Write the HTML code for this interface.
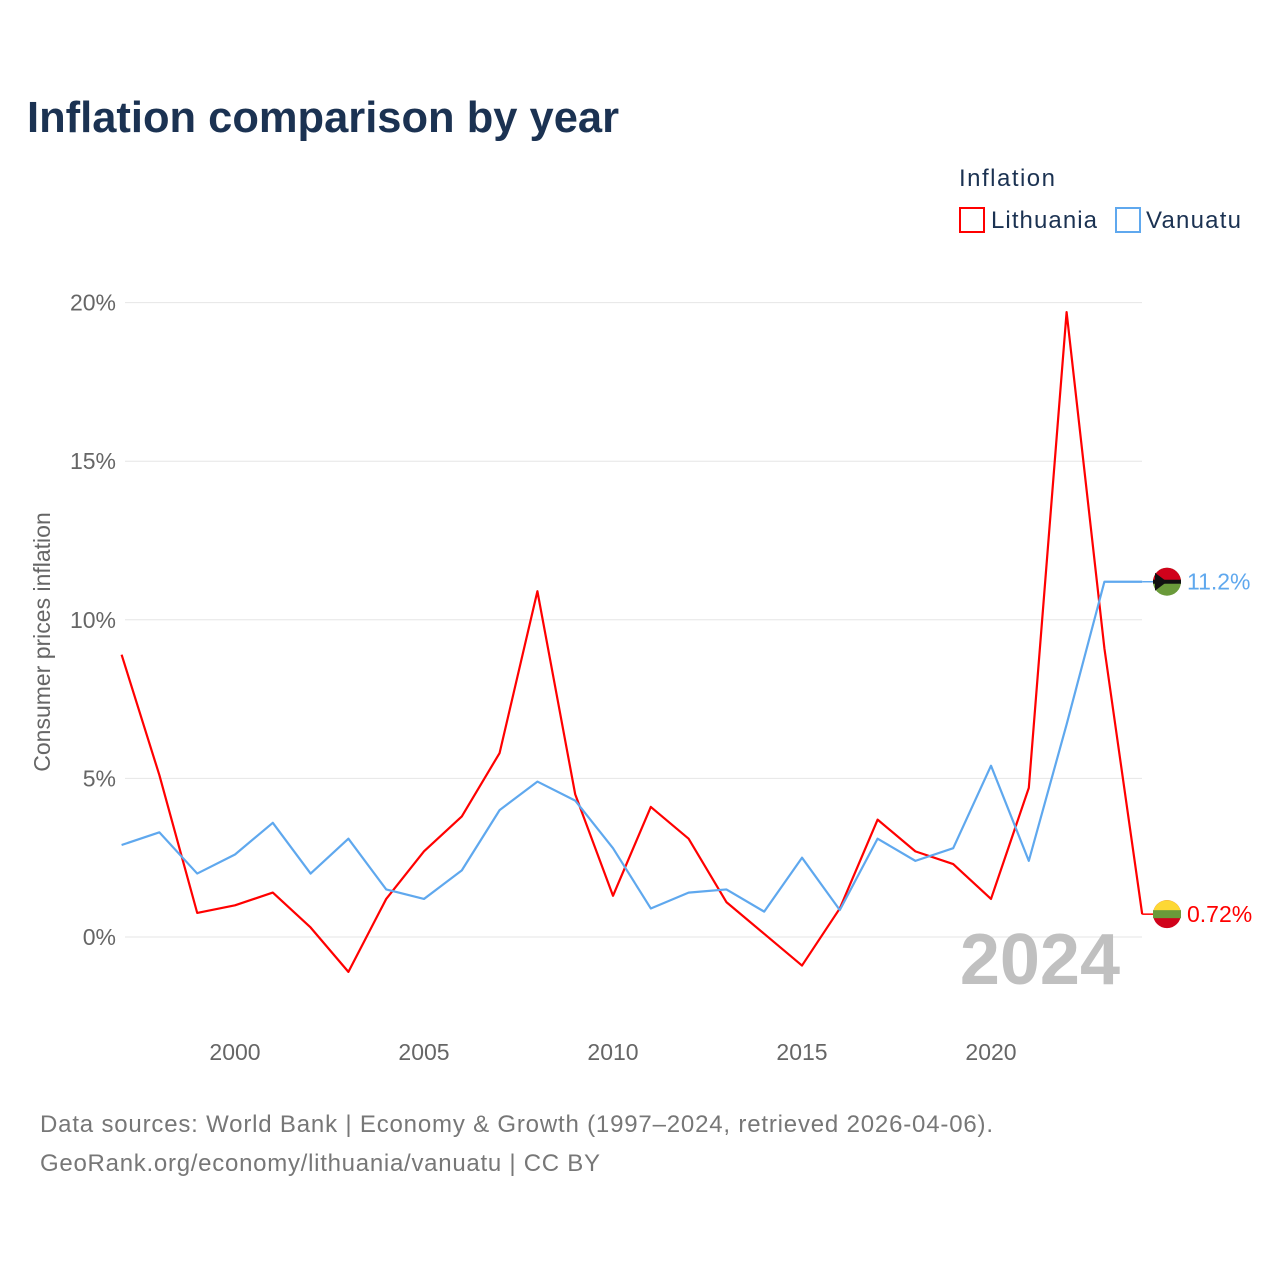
<!DOCTYPE html>
<html><head><meta charset="utf-8"><style>
body{margin:0;background:#fff;font-family:"Liberation Sans",sans-serif}
</style></head><body>
<svg width="1280" height="1280" viewBox="0 0 1280 1280" id="chart" font-family="Liberation Sans, sans-serif">
<text x="27" y="132" font-size="44" font-weight="bold" fill="#1b3252" textLength="592" lengthAdjust="spacingAndGlyphs">Inflation comparison by year</text>
<text x="959" y="186" font-size="24" fill="#1b3252" textLength="96">Inflation</text>
<g><rect x="960" y="208" width="24" height="24" fill="none" stroke="#ff0000" stroke-width="2"/><text x="991" y="228" font-size="24" fill="#1b3252" textLength="106">Lithuania</text></g>
<g><rect x="1116" y="208" width="24" height="24" fill="none" stroke="#5fa8ee" stroke-width="2"/><text x="1146" y="228" font-size="24" fill="#1b3252" textLength="95">Vanuatu</text></g>
<text transform="translate(50,642) rotate(-90)" text-anchor="middle" font-size="23" fill="#666">Consumer prices inflation</text>
<g id="grid"></g><g id="xt"></g>
<text x="1120" y="984" text-anchor="end" font-size="72" font-weight="bold" fill="#c0c0c0">2024</text>
<g id="lines"></g>
<text x="40" y="1132" font-size="24" fill="#777" textLength="953">Data sources: World Bank | Economy &amp; Growth (1997–2024, retrieved 2026-04-06).</text>
<text x="40" y="1171" font-size="24" fill="#777" textLength="560">GeoRank.org/economy/lithuania/vanuatu | CC BY</text>
</svg>
<script>
const years=[1997,1998,1999,2000,2001,2002,2003,2004,2005,2006,2007,2008,2009,2010,2011,2012,2013,2014,2015,2016,2017,2018,2019,2020,2021,2022,2023,2024];
const lithuania=[8.9,5.1,0.76,1.0,1.4,0.3,-1.1,1.2,2.7,3.8,5.8,10.9,4.5,1.3,4.1,3.1,1.1,0.1,-0.9,0.9,3.7,2.7,2.3,1.2,4.7,19.7,9.1,0.72];
const vanuatu=[2.9,3.3,2.0,2.6,3.6,2.0,3.1,1.5,1.2,2.1,4.0,4.9,4.3,2.8,0.9,1.4,1.5,0.8,2.5,0.85,3.1,2.4,2.8,5.4,2.4,6.7,11.2,11.2];
const yTicks=[0,5,10,15,20];
const xTicks=[2000,2005,2010,2015,2020];
const NS="http://www.w3.org/2000/svg";
const x=v=>121.6+(v-1997)*37.8;
const y=v=>937-v*31.72;
function mk(t,a,p){const e=document.createElementNS(NS,t);for(const k in a)e.setAttribute(k,a[k]);p.appendChild(e);return e;}
const grid=document.getElementById('grid');
yTicks.forEach(t=>{
 const l=mk('line',{x1:125,x2:1142,y1:y(t),y2:y(t),stroke:'#e6e6e6'},grid);
 
 
 const tx=mk('text',{x:116,y:y(t)+8,'text-anchor':'end','font-size':23,fill:'#666'},grid);
 tx.textContent=t+'%';
 
 
});
const xt=document.getElementById('xt');
xTicks.forEach(t=>{
 const tx=mk('text',{x:x(t),y:1060,'text-anchor':'middle','font-size':23,fill:'#666'},xt);
 tx.textContent=t;
 
 
});
const lines=document.getElementById('lines');
function series(vals,color,name,label,flag){
 const p=mk('polyline',{points:vals.map((v,i)=>x(years[i])+','+y(v)).join(' '),fill:'none',stroke:color,'stroke-width':2.2,'stroke-linejoin':'round'},lines);
 
 
 const lv=vals[vals.length-1],ly=y(lv);
 const c=mk('line',{x1:x(2024),x2:1158,y1:ly,y2:ly,stroke:color,'stroke-width':1.5},lines);
 
 
 const g=mk('g',{},lines);
 
 
 mk('circle',{cx:1167,cy:ly,r:14,fill:flag[1]},g);
 mk('path',{d:`M1153 ${ly} A14 14 0 0 1 1181 ${ly} Z`,fill:flag[0]},g);
 if(flag[2]==='wedge'){
  mk('rect',{x:1153,y:ly-2,width:28,height:4,fill:'#111'},g);
  mk('path',{d:`M1155 ${ly-9} L1167 ${ly} L1155 ${ly+9} Z`,fill:'#111'},g);
 } else mk('rect',{x:1153,y:ly-4,width:28,height:8,fill:flag[2]},g);
 const t=mk('text',{x:1187,y:ly+8,'font-size':23,fill:color},lines);
 t.textContent=label;
 
 
}
series(lithuania,'#ff0000','lithuania','0.72%',['#fdd835','#d0021b','#6a9a3a']);
series(vanuatu,'#5fa8ee','vanuatu','11.2%',['#d0021b','#6a9a3a','wedge']);
</script>
</body></html>
